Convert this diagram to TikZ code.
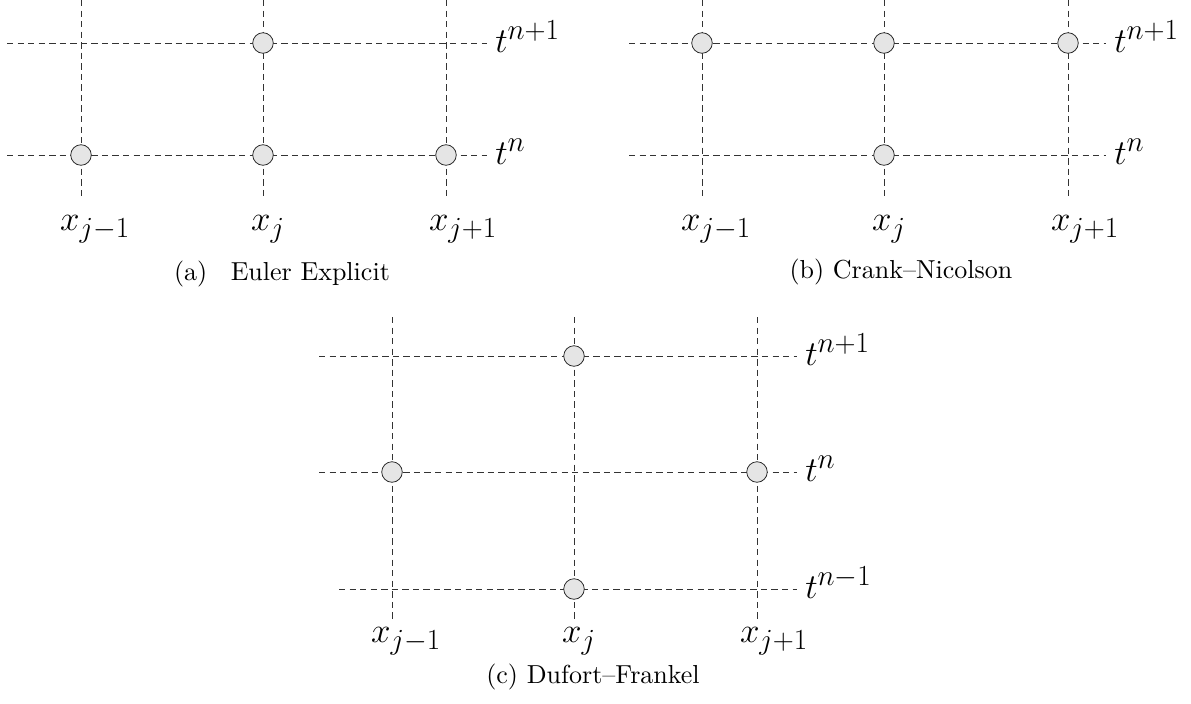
\documentclass[tikz,border=0pt]{standalone}
\begin{document}
\begin{tikzpicture}[x=0.025cm,y=-0.025cm,
  gridline/.style={line width=0.65pt,black!80,dash pattern=on 4.5pt off 3pt},
  pnt/.style={circle,draw=black!85,fill=black!10,line width=0.55pt,minimum size=14.6pt,inner sep=0pt},
  xlab/.style={anchor=base,inner sep=0pt,font=\fontsize{24.88}{28}\selectfont},
  tlab/.style={anchor=base west,inner sep=0pt,font=\fontsize{24.88}{28}\selectfont},
  capt/.style={anchor=base,inner sep=0pt}]
  \useasboundingbox (0,0) rectangle (1191,704);

  % (a) Euler explicit
  \draw[gridline] (81,0) -- (81,200);
  \draw[gridline] (263,0) -- (263,200);
  \draw[gridline] (446,0) -- (446,200);
  \draw[gridline] (7,43) -- (487,43);
  \draw[gridline] (7,155) -- (487,155);
  \node[pnt] (a-jn1) at (263,43) {};
  \node[pnt] (a-lm) at (81,155) {};
  \node[pnt] (a-jn) at (263,155) {};
  \node[pnt] (a-rn) at (446,155) {};
  \node[tlab] (a-t1) at (495,52.5) {$t^{n+1}$};
  \node[tlab] (a-t0) at (495,164.5) {$t^{n}$};
  \node[xlab] (a-x1) at (95,230) {$x_{j-1}$};
  \node[xlab] (a-x2) at (268,230) {$x_{j}$};
  \node[xlab] (a-x3) at (463,230) {$x_{j+1}$};
  \node[capt] (a-cap) at (282,280) {\scalebox{1.85}{(a)\hspace{0.9em}Euler Explicit}};

  % (b) Crank-Nicolson
  \draw[gridline] (702,0) -- (702,200);
  \draw[gridline] (884,0) -- (884,200);
  \draw[gridline] (1068,0) -- (1068,200);
  \draw[gridline] (629,43) -- (1106,43);
  \draw[gridline] (629,155) -- (1106,155);
  \node[pnt] (b-ln1) at (702,43) {};
  \node[pnt] (b-jn1) at (884,43) {};
  \node[pnt] (b-rn1) at (1068,43) {};
  \node[pnt] (b-jn) at (884,155) {};
  \node[tlab] (b-t1) at (1114,52.5) {$t^{n+1}$};
  \node[tlab] (b-t0) at (1114,164.5) {$t^{n}$};
  \node[xlab] (b-x1) at (716,230) {$x_{j-1}$};
  \node[xlab] (b-x2) at (889,230) {$x_{j}$};
  \node[xlab] (b-x3) at (1085,230) {$x_{j+1}$};
  \node[capt] (b-cap) at (901,278) {\scalebox{1.85}{(b) Crank--Nicolson}};

  % (c) Dufort-Frankel
  \draw[gridline] (392,317) -- (392,622);
  \draw[gridline] (574,317) -- (574,622);
  \draw[gridline] (757,317) -- (757,622);
  \draw[gridline] (319,356) -- (797,356);
  \draw[gridline] (319,472) -- (797,472);
  \draw[gridline] (339,589) -- (797,589);
  \node[pnt] (c-jn1) at (574,356) {};
  \node[pnt] (c-ln) at (392,472) {};
  \node[pnt] (c-rn) at (757,472) {};
  \node[pnt] (c-jn0) at (574,589) {};
  \node[tlab] (c-t1) at (805,365.5) {$t^{n+1}$};
  \node[tlab] (c-t0) at (805,481.5) {$t^{n}$};
  \node[tlab] (c-tm) at (805,598.5) {$t^{n-1}$};
  \node[xlab] (c-x1) at (406,642) {$x_{j-1}$};
  \node[xlab] (c-x2) at (579,642) {$x_{j}$};
  \node[xlab] (c-x3) at (774,642) {$x_{j+1}$};
  \node[capt] (c-cap) at (593,683) {\scalebox{1.85}{(c) Dufort--Frankel}};
\end{tikzpicture}
\end{document}
